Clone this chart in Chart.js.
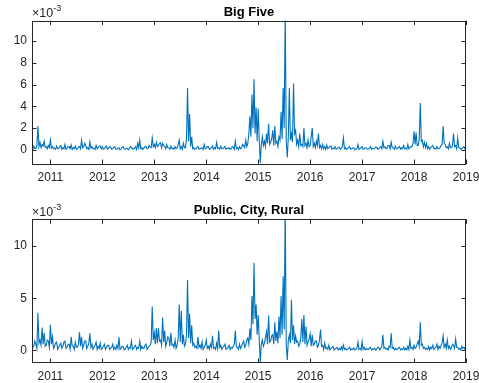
<!DOCTYPE html>
<html>
<head>
<meta charset="utf-8">
<script src="https://cdn.jsdelivr.net/npm/chart.js@4.4.0/dist/chart.umd.min.js"></script>
<style>
body{margin:0;background:#fff;overflow:hidden}
canvas{position:absolute;left:0}
#top{top:0}
#bottom{top:190px}
</style>
</head>
<body>
<canvas id="top" width="479" height="190"></canvas>
<canvas id="bottom" width="479" height="193"></canvas>
<script>
// samples every 0.02 yr starting 2010.64, values in units of 1e-3
const startYear = 2010.64;
const stepYear = 0.02;
const yearTicks = [2011, 2012, 2013, 2014, 2015, 2016, 2017, 2018, 2019];
const bigFiveTicks = [0, 2, 4, 6, 8, 10];
const pcrTicks = [0, 5, 10];

const bigFive = [
  0.2,0.05, 0.35,0.1, 0.15,0.4, 2.2,0.3, 0.7,0.2, 0.5,0.35, 0.8,0.25, 0.3,0.1, 0.4,0.2, 0.9,0.15,
  0.3,0.1, 0.15,0.05, 0.35,0.1, 0.1,0.3, 0.4,0.05, 0.2,0.1, 0.5,0.05, 0.15,0.3, 0.3,0.1, 0.45,0.05,
  0.2,0.1, 0.35,0.05, 0.1,0.25, 0.3,0.1, 0.9,0.2, 0.3,0.6, 0.4,0.1, 0.2,0.05, 0.75,0.15, 0.3,0.1,
  0.15,0.05, 0.4,0.1, 0.2,0.35, 0.35,0.1, 0.3,0.05, 0.1,0.25, 0.35,0.05, 0.15,0.3, 0.25,0.05, 0.1,0.2,
  0.3,0.05, 0.05,0.15, 0.2,0.0, 0.1,0.25, 0.3,0.05, 0.05,0.15, 0.15,0.0, 0.1,0.3, 0.25,0.05, 0.1,0.15,
  0.3,0.05, 0.6,0.2, 0.9,0.1, 0.2,0.05, 0.15,0.3, 0.3,0.1, 0.1,0.4, 0.25,0.2, 1.1,0.3, 0.5,0.2,
  0.7,0.3, 0.4,0.6, 0.65,0.2, 0.6,0.4, 0.3,0.1, 0.5,0.2, 0.2,0.05, 0.35,0.1, 0.15,0.05, 0.3,0.1,
  0.2,0.5, 0.9,0.1, 0.3,0.05, 0.6,0.2, 0.2,1.0, 5.7,0.8, 3.3,0.3, 1.2,0.1, 0.2,0.05, 0.1,0.2,
  0.3,0.05, 0.1,0.15, 0.2,0.05, 0.5,0.1, 0.15,0.3, 0.3,0.05, 0.1,0.2, 0.35,0.05, 0.2,0.1, 0.7,0.15,
  0.2,0.05, 0.35,0.1, 0.1,0.2, 0.3,0.05, 0.15,0.1, 0.2,0.05, 0.1,0.3, 0.25,0.05, 0.8,0.1, 0.2,0.05,
  0.3,0.1, 0.15,0.5, 0.4,0.2, 0.9,0.3, 0.6,1.5, 3.1,1.2, 5.1,2.0, 6.5,1.5, 3.9,0.8, 3.8,1.0,
  -1.2,0.5, 1.2,0.4, 0.8,0.3, 1.5,0.6, 2.4,0.5, 0.7,1.0, 1.8,0.4, 2.2,0.6, 0.8,0.3, 1.2,0.9,
  3.5,1.0, 5.7,2.0, 13,0.8, -0.7,1.2, 5.7,0.9, 1.5,0.7, 6.1,1.5, 1.8,0.5, 0.9,0.3, 1.5,0.4,
  0.5,0.3, 2.0,0.4, 0.6,0.2, 0.9,0.3, 0.4,1.2, 2.0,0.3, 0.6,0.2, 0.8,0.4, 1.5,0.2, 0.4,0.1,
  0.5,0.1, 0.3,0.05, 0.45,0.1, 0.2,0.3, 0.35,0.05, 0.15,0.1, 0.3,0.05, 0.1,0.2, 0.25,0.05, 0.15,0.3,
  1.1,0.1, 0.2,0.05, 0.1,0.2, 0.3,0.05, 0.1,0.15, 0.2,0.0, 0.05,0.1, 0.5,0.05, 0.1,0.2, 0.3,0.05,
  0.1,0.2, 0.2,0.05, 0.05,0.15, 0.3,0.05, 0.15,0.1, 0.1,0.25, 0.25,0.05, 0.1,0.2, 0.3,0.1, 0.8,0.2,
  0.3,0.1, 0.15,0.4, 0.4,0.1, 0.7,0.2, 0.2,0.05, 0.35,0.1, 0.1,0.25, 0.3,0.05, 0.2,0.1, 0.4,0.1,
  0.15,0.05, 0.5,0.1, 0.2,0.3, 0.3,0.6, 1.7,0.5, 1.6,0.4, 0.4,1.0, 4.3,0.8, 0.9,0.3, 0.7,0.2,
  0.6,0.1, 0.3,0.05, 0.2,0.3, 0.4,0.1, 0.15,0.05, 0.3,0.1, 0.1,0.2, 0.4,0.5, 2.2,0.6, 0.5,0.2,
  0.3,0.1, 0.6,0.2, 0.2,0.4, 1.5,0.3, 0.4,0.1, 1.1,0.2, 0.2,0.05, 0.1,0.2, 0.3,0.1, 0.4
];

const publicCityRural = [
  0.8,0.3, 0.4,0.9, 0.6,0.2, 3.6,0.7, 1.0,0.5, 2.2,0.6, 1.7,0.4, 0.5,1.0, 0.9,0.3, 2.45,0.6,
  1.3,0.2, 0.4,0.7, 0.8,0.1, 0.3,0.5, 0.7,0.2, 0.4,0.8, 0.9,0.2, 0.3,0.6, 0.6,0.1, 1.3,0.4,
  0.4,0.1, 0.8,0.3, 0.3,0.6, 1.75,0.4, 1.3,0.2, 0.5,0.9, 0.9,0.2, 0.4,0.7, 1.65,0.3, 0.6,0.1,
  0.3,0.5, 0.8,0.1, 0.4,0.2, 0.7,0.1, 0.2,0.4, 0.6,0.1, 0.3,0.5, 0.5,0.1, 0.2,0.3, 0.6,0.1,
  0.3,0.1, 0.5,0.2, 1.25,0.1, 0.2,0.4, 0.4,0.05, 0.15,0.3, 0.5,0.1, 0.3,0.2, 0.9,0.1, 0.2,0.4,
  0.5,0.1, 0.3,0.2, 0.9,0.1, 0.4,0.2, 0.2,0.5, 0.6,0.1, 0.3,0.4, 0.5,0.8, 4.2,1.0, 1.7,0.6,
  2.15,0.7, 2.15,0.9, 1.0,0.5, 3.15,0.8, 1.9,0.4, 0.8,1.3, 1.2,0.4, 1.7,0.5, 0.6,0.3, 1.0,0.2,
  0.5,1.2, 4.4,0.8, 3.8,0.6, 1.5,0.4, 0.6,1.5, 6.75,1.2, 3.5,0.7, 2.4,0.5, 0.7,0.3, 0.4,0.2,
  1.3,0.3, 0.5,0.2, 0.8,0.1, 0.3,0.5, 1.0,0.2, 0.4,0.1, 0.6,0.3, 1.4,0.2, 0.3,0.1, 0.7,0.2,
  1.9,0.3, 0.5,0.1, 0.3,0.4, 0.6,0.1, 0.2,0.3, 0.5,0.1, 0.3,0.2, 0.4,0.6, 1.9,0.3, 0.3,0.1,
  0.6,0.2, 0.4,0.7, 0.9,0.3, 0.5,1.0, 1.2,0.6, 2.1,1.0, 5.2,2.5, 8.4,3.0, 4.4,1.5, 3.4,1.0,
  -1.2,0.6, 1.0,0.4, 0.7,1.2, 1.8,0.6, 3.35,0.8, 0.9,1.4, 1.5,0.6, 2.7,0.9, 1.8,0.7, 3.25,1.2,
  5.2,1.5, 7.1,2.0, 14,0.5, -0.9,1.0, 1.5,0.7, 4.85,1.0, 2.4,0.6, 1.4,0.8, 0.9,0.4, 0.6,1.2,
  3.0,0.8, 3.4,0.6, 2.3,0.5, 0.8,1.1, 1.6,0.4, 1.5,0.5, 0.6,0.9, 0.9,0.3, 0.5,1.0, 2.0,0.4,
  0.5,0.1, 0.7,0.2, 0.3,0.1, 0.5,0.05, 0.2,0.3, 0.4,0.05, 0.15,0.25, 0.3,0.05, 0.2,0.1, 0.35,0.05,
  0.5,0.1, 0.2,0.05, 0.1,0.2, 0.3,0.05, 0.15,0.1, 0.25,0.05, 0.1,0.2, 0.8,0.1, 0.2,0.05, 0.85,0.1,
  0.3,0.05, 0.2,0.1, 0.1,0.25, 0.3,0.05, 0.15,0.1, 0.2,0.05, 0.1,0.3, 0.3,0.05, 0.2,0.4, 1.5,0.2,
  0.3,0.1, 0.2,0.05, 0.4,0.3, 1.65,0.2, 0.3,0.05, 0.2,0.1, 0.1,0.25, 0.3,0.05, 0.15,0.1, 0.3,0.05,
  0.2,0.05, 0.4,0.1, 1.0,0.2, 0.3,0.1, 0.5,0.2, 0.3,0.6, 0.9,0.4, 2.7,0.5, 0.6,0.2, 0.3,0.1,
  0.2,0.1, 0.4,0.05, 0.3,0.2, 0.5,0.1, 0.2,0.3, 0.6,0.1, 0.4,0.2, 0.5,0.7, 1.4,0.3, 0.6,0.2,
  1.0,0.2, 0.4,0.1, 0.3,0.6, 0.5,0.2, 1.1,0.3, 0.3,0.1, 0.2,0.05, 0.4,0.2, 0.3,0.1, 0.6
];

const FONT = '"Liberation Sans", Arial, Helvetica, sans-serif';
const AXIS_COLOR = '#262626';

// MATLAB style box, inward ticks and the x10^-3 exponent label
const matlabAxes = {
  id: 'matlabAxes',
  afterDatasetsDraw(chart) {
    const {ctx, chartArea: a, scales: {x, y}} = chart;
    const tl = 4.5;
    ctx.save();
    ctx.strokeStyle = AXIS_COLOR;
    ctx.lineWidth = 1;
    ctx.beginPath();
    x.ticks.forEach(t => {
      const px = Math.round(x.getPixelForValue(t.value)) + 0.5;
      ctx.moveTo(px, a.bottom); ctx.lineTo(px, a.bottom - tl);
      ctx.moveTo(px, a.top); ctx.lineTo(px, a.top + tl);
    });
    y.ticks.forEach(t => {
      const py = Math.round(y.getPixelForValue(t.value)) + 0.5;
      ctx.moveTo(a.left, py); ctx.lineTo(a.left + tl, py);
      ctx.moveTo(a.right, py); ctx.lineTo(a.right - tl, py);
    });
    ctx.stroke();
    ctx.strokeRect(Math.round(a.left) + 0.5, Math.round(a.top) + 0.5,
      Math.round(a.right - a.left) - 1, Math.round(a.bottom - a.top) - 1);

    ctx.fillStyle = AXIS_COLOR;
    ctx.textBaseline = 'alphabetic';
    ctx.textAlign = 'left';
    ctx.font = '12.5px ' + FONT;
    ctx.fillText('\u00d710', a.left, a.top - 3.5);
    const w = ctx.measureText('\u00d710').width;
    ctx.font = '9px ' + FONT;
    ctx.fillText('-3', a.left + w, a.top - 9.5);
    ctx.restore();
  }
};

// no extra room for half labels at the ends, the box is placed by layout padding
const noEdgePad = s => {
  s.paddingLeft = 0; s.paddingRight = 0; s.paddingTop = 0; s.paddingBottom = 0;
};

function makeChart(id, title, values, yTicks, yMin, yMax, titlePad, xHeight, xPad) {
  new Chart(document.getElementById(id), {
    type: 'line',
    data: {
      datasets: [{
        data: values.map((v, i) => ({x: startYear + i * stepYear, y: v})),
        borderColor: '#0072BD',
        borderWidth: 1.1,
        pointRadius: 0,
        tension: 0,
        fill: false
      }]
    },
    options: {
      responsive: false,
      animation: false,
      events: [],
      layout: {padding: {left: 0, right: 13, top: 0, bottom: 0}},
      plugins: {
        legend: {display: false},
        tooltip: {enabled: false},
        title: {
          display: true,
          text: title,
          fullSize: false,
          color: '#000',
          font: {family: FONT, size: 13, weight: 'bold'},
          padding: titlePad
        }
      },
      scales: {
        x: {
          type: 'linear',
          min: 2010.646,
          max: 2019,
          grid: {display: false, drawTicks: false},
          border: {display: false},
          afterBuildTicks: s => { s.ticks = yearTicks.map(v => ({value: v})); },
          afterFit: s => { s.height = xHeight; noEdgePad(s); },
          ticks: {
            color: AXIS_COLOR,
            font: {family: FONT, size: 12},
            padding: xPad,
            maxRotation: 0,
            autoSkip: false,
            callback: v => String(v)
          }
        },
        y: {
          min: yMin,
          max: yMax,
          grid: {display: false, drawTicks: false},
          border: {display: false},
          afterBuildTicks: s => { s.ticks = yTicks.map(v => ({value: v})); },
          afterFit: s => { s.width = 32; noEdgePad(s); },
          ticks: {
            color: AXIS_COLOR,
            font: {family: FONT, size: 12},
            padding: 5,
            callback: v => String(v)
          }
        }
      }
    },
    plugins: [matlabAxes]
  });
}

makeChart('top', 'Big Five', bigFive, bigFiveTicks, -1.3, 11.9, {top: 4.7, bottom: 0.2}, 26, 6);
makeChart('bottom', 'Public, City, Rural', publicCityRural, pcrTicks, -1.2, 12.55, {top: 13.05, bottom: 0.65}, 20, 6);
</script>
</body>
</html>
